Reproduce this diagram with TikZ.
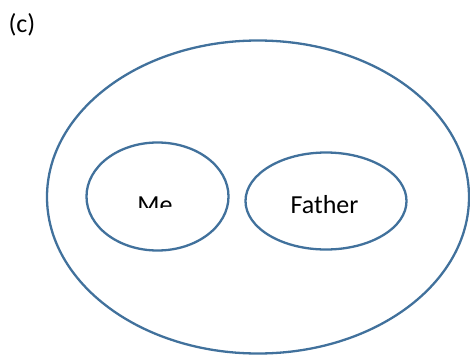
\documentclass[tikz,border=0pt]{standalone}
\usepackage{fontspec}
\setmainfont{Carlito}
\usepackage{tikz}
\usetikzlibrary{shapes.geometric}
\definecolor{setblue}{HTML}{41719C}

\begin{document}
\begin{tikzpicture}[x=1pt,y=-1pt,
  set/.style={draw=setblue,line width=2.3pt,ellipse,inner sep=0pt},
  lab/.style={font=\fontsize{26}{31}\selectfont,inner sep=0pt}]
\useasboundingbox (0,0) rectangle (470,356);
\node[lab] (tag) at (22,25) {(c)};
\node[set,minimum width=422pt,minimum height=313pt] (family) at (258,197) {};
\node[set,minimum width=142pt,minimum height=108pt] (me) at (157.5,196.5) {};
\node[set,minimum width=161pt,minimum height=97pt] (father) at (326,201) {};
\node[lab,anchor=base] (fathertext) at (324.5,213) {Father};
\begin{scope}
  \clip (100,150) rectangle (220,207);
  \node[lab,anchor=base] (metext) at (155,213) {Me};
\end{scope}
\end{tikzpicture}
\end{document}
